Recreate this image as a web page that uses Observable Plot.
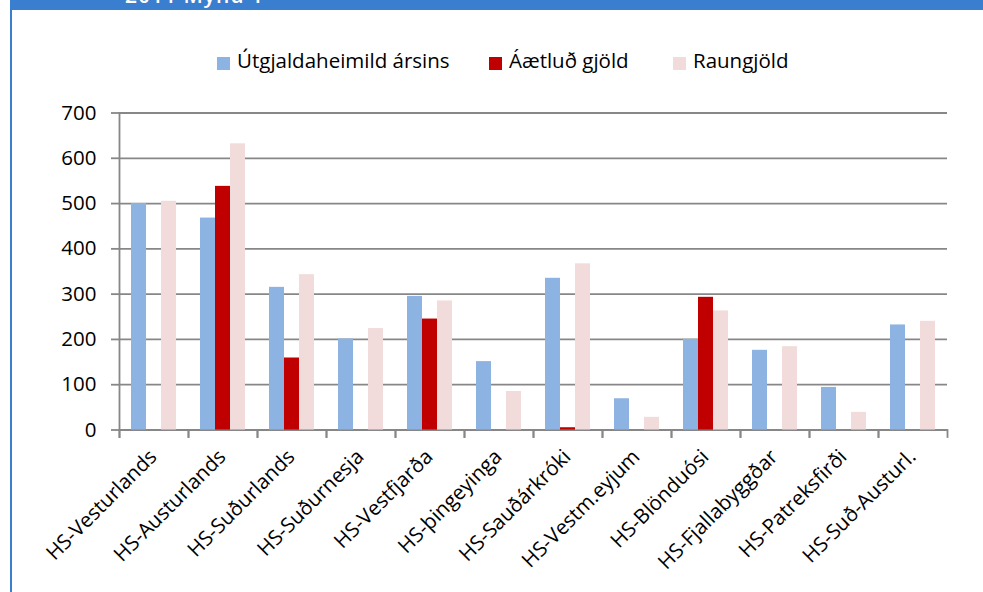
<!DOCTYPE html>
<html>
<head>
<meta charset="utf-8">
<script src="https://cdn.jsdelivr.net/npm/d3@7"></script>
<script src="https://cdn.jsdelivr.net/npm/@observablehq/plot@0.6"></script>
<style>
  html, body { margin: 0; padding: 0; background: #fff; }
  body { position: relative; width: 983px; height: 592px; overflow: hidden; font-family: "Open Sans", sans-serif; }
  #topbar { position: absolute; left: 10px; top: 0; width: 973px; height: 10px; background: #3a7ecf; overflow: hidden; }
  #topbar span { position: absolute; left: 115px; top: -15px; font: 600 21px/20px "Open Sans", sans-serif; color: #fff; white-space: nowrap; letter-spacing: 1px; }
  #leftbar { position: absolute; left: 10px; top: 0; width: 2px; height: 592px; background: #3a7ecf; }
  .leg { position: absolute; top: 46px; height: 28px; font-size: 20.5px; line-height: 28px; color: #000; white-space: nowrap; }
  .leg i { position: absolute; left: 0; top: 10.5px; width: 13px; height: 13px; }
  .leg span { position: absolute; left: 20px; top: 0; }
  #chart { position: absolute; left: 0; top: 88px; }
</style>
</head>
<body>
<div id="topbar"><span>2011 Mynd 1</span></div>
<div id="leftbar"></div>
<div id="legend"></div>
<div id="chart"></div>
<script>
const categories = ["HS-Vesturlands","HS-Austurlands","HS-Suðurlands","HS-Suðurnesja","HS-Vestfjarða","HS-þingeyinga","HS-Sauðárkróki","HS-Vestm.eyjum","HS-Blönduósi","HS-Fjallabyggðar","HS-Patreksfirði","HS-Suð-Austurl."];
const seriesNames = ["Útgjaldaheimild ársins", "Áætluð gjöld", "Raungjöld"];
const budget  = [500, 468, 315, 201, 295, 151, 335, 69, 200, 176, 94, 232];
const planned = [0, 538, 159, 0, 245, 0, 5, 0, 293, 0, 0, 0];
const actual  = [505, 632, 343, 224, 285, 85, 367, 28, 263, 184, 39, 240];
const yTicks = [0, 100, 200, 300, 400, 500, 600, 700];
const colors = ["#8db3e2", "#c00000", "#f2dcdb"];

const values = [budget, planned, actual];
const rows = categories.flatMap((c, i) => seriesNames.map((s, j) => ({cat: c, series: s, value: values[j][i]})));

// legend
const legendLeft = [217, 489, 673];
const legend = document.getElementById("legend");
seriesNames.forEach((s, j) => {
  const d = document.createElement("div");
  d.className = "leg";
  d.style.left = legendLeft[j] + "px";
  d.innerHTML = `<i style="background:${colors[j]}"></i><span>${s}</span>`;
  legend.appendChild(d);
});

const H = 504, mTop = 24.5, mBottom = 162.5;
const plotH = H - mTop - mBottom;
const gridColor = "#878787";
const fs = 20.5;
const first = () => categories[0];

const chart = Plot.plot({
  width: 983,
  height: H,
  marginLeft: 115,
  marginRight: 33,
  marginTop: mTop,
  marginBottom: mBottom,
  style: {fontFamily: "'Open Sans', sans-serif", fontSize: fs + "px", color: "#000", background: "transparent"},
  fx: {domain: categories, padding: 0, axis: null, label: null},
  x: {domain: seriesNames, paddingInner: 0, paddingOuter: 0.743, axis: null, label: null},
  y: {domain: [0, 700], axis: null, label: null},
  color: {domain: seriesNames, range: colors},
  marks: [
    Plot.ruleY(yTicks, {stroke: gridColor, strokeWidth: 1.8}),
    Plot.barY(rows, {fx: "cat", x: "series", y: "value", fill: "series"}),
    Plot.axisY({ticks: yTicks, tickSize: 8, stroke: gridColor, strokeWidth: 1.8, label: null, tickFormat: () => ""}),
    Plot.text(yTicks, {fx: first, y: d => d, text: d => String(d), frameAnchor: "left", textAnchor: "end", lineAnchor: "middle", dx: -23, fill: "#000", fontSize: fs}),
    Plot.frame({anchor: "left", fx: first, insetBottom: -7, stroke: gridColor, strokeWidth: 1.8}),
    Plot.frame({anchor: "left", insetTop: plotH, insetBottom: -7, stroke: gridColor, strokeWidth: 1.8}),
    Plot.frame({anchor: "right", insetTop: plotH, insetBottom: -7, stroke: gridColor, strokeWidth: 1.8}),
    Plot.text(categories, {fx: d => d, text: d => d, frameAnchor: "bottom", rotate: -45, textAnchor: "end", lineAnchor: "bottom", dx: 4, dy: 28, fill: "#000", fontSize: fs})
  ]
});
document.getElementById("chart").appendChild(chart);
</script>
</body>
</html>
